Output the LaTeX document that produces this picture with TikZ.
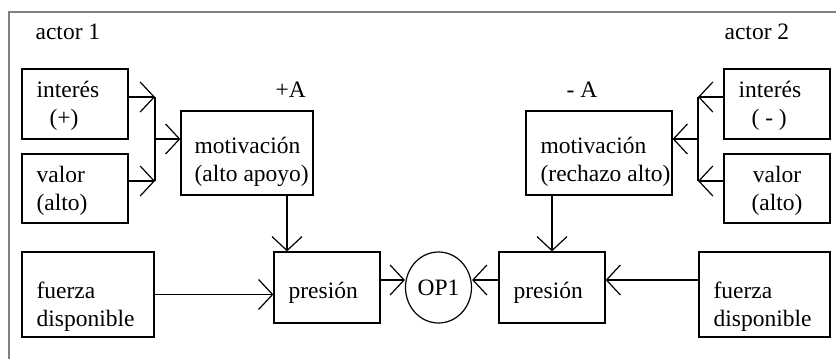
\documentclass[tikz,border=0pt]{standalone}
\usepackage{fontspec}
\setmainfont{Liberation Serif}
\usetikzlibrary{arrows.meta,shapes.geometric}
\tikzset{
	box/.style={draw, inner sep=0pt},
	txt/.style={inner sep=0pt, anchor=base west, align=left},
	pfeil/.style={-{Straight Barb[length=7pt, width=15pt]}}
}
\begin{document}
\begin{tikzpicture}[x=0.5pt, y=-0.5pt, line width=0.6pt, font=\fontsize{11.75}{14}\selectfont]
		\useasboundingbox (0,0) rectangle (836,359);
		\draw[gray, line width=1pt] (9,359) -- (9,12) -- (836,12);
		%actor 1 (base = letzte Zeile)
		\node[txt] (a1) at (35,39) {actor 1};
		\node[box, minimum width=53pt, minimum height=35pt] (int1) at (75,104) {};
		\node[txt] (tint1) at (36,125) {interés\\\hspace*{6.5pt}(+)};
		\node[box, minimum width=53pt, minimum height=34.5pt] (val1) at (75,188.5) {};
		\node[txt] (tval1) at (36,210) {valor\\(alto)};
		\node[txt] (plus) at (275,97) {+A};
		\node[box, minimum width=66pt, minimum height=42pt] (mot1) at (247,153) {};
		\node[txt] (tmot1) at (194,181) {motivación\\(alto apoyo)};
		\node[box, minimum width=66pt, minimum height=42.5pt] (fue1) at (88,294.5) {};
		\node[txt] (tfue1) at (36,326) {fuerza\\disponible};
		\node[box, minimum width=53pt, minimum height=35.5pt] (pre1) at (327,287.5) {};
		\node[txt] (tpre1) at (288,298) {presión};
		%OP1
		\node[draw, ellipse, inner sep=0pt, minimum width=33pt, minimum height=35.5pt] (op) at (438.5,287.5) {OP1};
		%actor 2
		\node[txt] (a2) at (724,39) {actor 2};
		\node[box, minimum width=53pt, minimum height=35pt] (int2) at (777,104) {};
		\node[txt] (tint2) at (738,125) {interés\\\hspace*{6.5pt}( - )};
		\node[box, minimum width=53pt, minimum height=34.5pt] (val2) at (777,188.5) {};
		\node[txt, align=center, anchor=base] (tval2) at (777,210) {valor\\(alto)};
		\node[txt] (minus) at (566,97) {- A};
		\node[box, minimum width=73pt, minimum height=42pt] (mot2) at (599,153) {};
		\node[txt] (tmot2) at (540,181) {motivación\\(rechazo alto)};
		\node[box, minimum width=65.5pt, minimum height=42.5pt] (fue2) at (764.5,294.5) {};
		\node[txt] (tfue2) at (713,326) {fuerza\\disponible};
		\node[box, minimum width=53pt, minimum height=35.5pt] (pre2) at (552,287.5) {};
		\node[txt] (tpre2) at (513,298) {presión};

		%links
		\coordinate (k1a) at (155,97);
		\coordinate (k1b) at (155,181);
		\coordinate (k1) at (155,139);
		\draw[pfeil] (int1.east |- k1a) -- (k1a);
		\draw[pfeil] (val1.east |- k1b) -- (k1b);
		\draw (k1a) -- (k1b);
		\draw[pfeil] (k1) -- (mot1.west |- k1);
		\coordinate (d1) at (287,195);
		\draw[pfeil] (d1) -- (d1 |- pre1.north);
		\draw[pfeil] (fue1.east) -- (fue1.east -| pre1.west);
		\draw[pfeil] ([yshift=3.75pt]pre1.east) -- ([yshift=3.75pt]op.west);
		%rechts
		\coordinate (k2a) at (698,97);
		\coordinate (k2b) at (698,181);
		\coordinate (k2) at (698,139);
		\draw[pfeil] (int2.west |- k2a) -- (k2a);
		\draw[pfeil] (val2.west |- k2b) -- (k2b);
		\draw (k2a) -- (k2b);
		\draw[pfeil] (k2) -- (mot2.east |- k2);
		\draw[pfeil] (mot2.south -| pre2.north) -- (pre2.north);
		\draw[pfeil] ([yshift=7.25pt]fue2.west) -- ([yshift=7.25pt]fue2.west -| pre2.east);
		\draw[pfeil] ([yshift=3.75pt]pre2.west) -- ([yshift=3.75pt]op.east);
	\end{tikzpicture}
\end{document}
